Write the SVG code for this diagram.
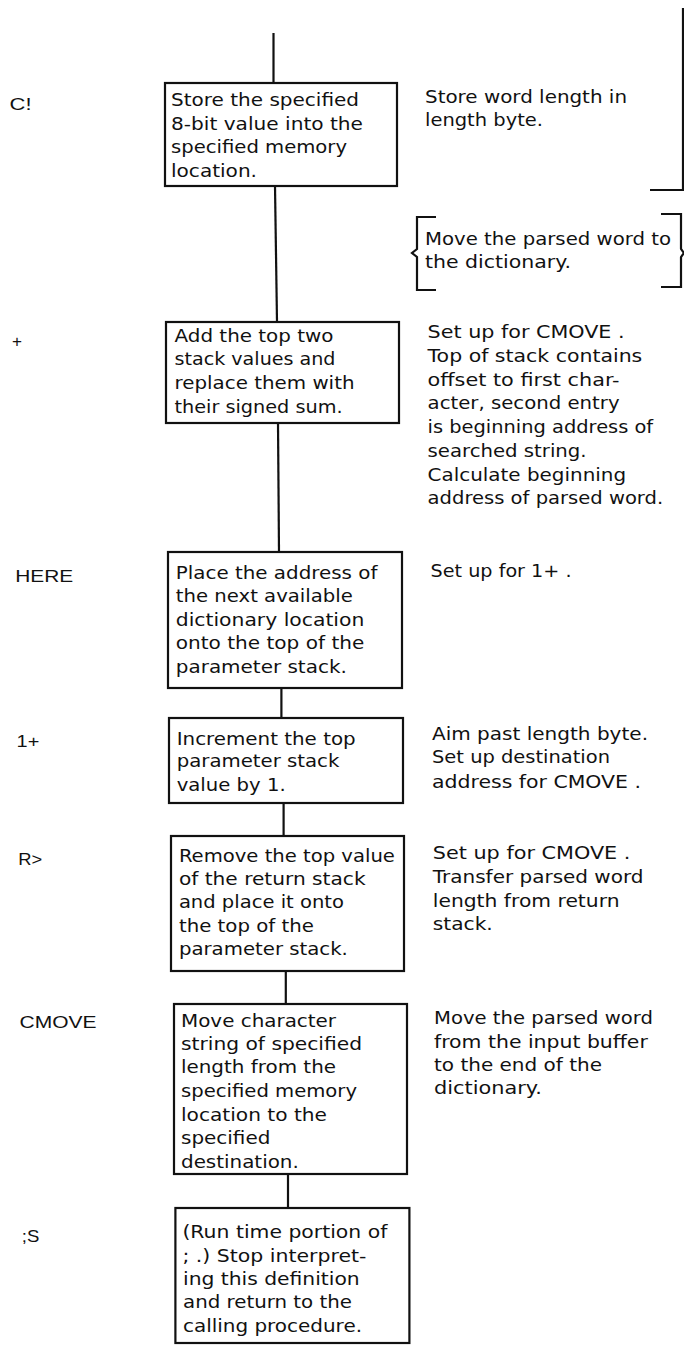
<svg xmlns="http://www.w3.org/2000/svg" width="684" height="1345" viewBox="0 0 684 1345">
<style>
.bg{fill:#fff}
.box{fill:#fff;stroke:#111;stroke-width:2.2}
.ln{fill:none;stroke:#111;stroke-width:2.2}
text{font-family:"DejaVu Sans","Liberation Sans",sans-serif;font-size:18px;fill:#111}
.lb{font-size:17px;font-family:"Liberation Sans","DejaVu Sans",sans-serif}
</style>
<rect class="bg" x="0" y="0" width="684" height="1345"/>
<g id="connectors">
<line class="ln" x1="273.5" y1="33" x2="273.5" y2="83"/>
<line class="ln" x1="275" y1="186" x2="277" y2="322"/>
<line class="ln" x1="278" y1="423" x2="279" y2="552"/>
<line class="ln" x1="281.4" y1="688" x2="281.4" y2="718"/>
<line class="ln" x1="283.6" y1="803" x2="283.6" y2="836"/>
<line class="ln" x1="285.8" y1="971" x2="285.8" y2="1004"/>
<line class="ln" x1="288" y1="1174" x2="288" y2="1208"/>
<polyline class="ln" points="683,8 683,190 650,190"/>
</g>
<g id="brace">
<path class="ln" d="M436,217 H417 V249 L412,253 L417,257 V290 H436"/>
<path class="ln" d="M661,214 H681 V249 L684,253 L681,257 V287 H661"/>
<text x="425" y="245" textLength="246" lengthAdjust="spacingAndGlyphs">Move the parsed word to</text>
<text x="425" y="268" textLength="146" lengthAdjust="spacingAndGlyphs">the dictionary.</text>
</g>
<g id="n-cstore">
<rect class="box" x="165" y="83" width="232" height="103"/>
<text x="171" y="106" textLength="188" lengthAdjust="spacingAndGlyphs">Store the specified</text>
<text x="171" y="129.5" textLength="192" lengthAdjust="spacingAndGlyphs">8-bit value into the</text>
<text x="171" y="153" textLength="176" lengthAdjust="spacingAndGlyphs">specified memory</text>
<text x="171" y="176.5" textLength="86" lengthAdjust="spacingAndGlyphs">location.</text>
<text class="lb" x="9.6" y="110" textLength="22" lengthAdjust="spacingAndGlyphs">C!</text>
<text x="425" y="103" textLength="202" lengthAdjust="spacingAndGlyphs">Store word length in</text>
<text x="425" y="126" textLength="118" lengthAdjust="spacingAndGlyphs">length byte.</text>
</g>
<g id="n-plus">
<rect class="box" x="166" y="322" width="233" height="101"/>
<text x="174.5" y="341.5" textLength="159" lengthAdjust="spacingAndGlyphs">Add the top two</text>
<text x="174.5" y="365" textLength="161" lengthAdjust="spacingAndGlyphs">stack values and</text>
<text x="174.5" y="389" textLength="180" lengthAdjust="spacingAndGlyphs">replace them with</text>
<text x="174.5" y="413" textLength="168" lengthAdjust="spacingAndGlyphs">their signed sum.</text>
<text class="lb" x="12" y="347" textLength="10" lengthAdjust="spacingAndGlyphs">+</text>
<text x="427.6" y="338.3" textLength="197" lengthAdjust="spacingAndGlyphs">Set up for CMOVE .</text>
<text x="427.6" y="362" textLength="214.7" lengthAdjust="spacingAndGlyphs">Top of stack contains</text>
<text x="427.6" y="385.7" textLength="192" lengthAdjust="spacingAndGlyphs">offset to first char-</text>
<text x="427.6" y="409.4" textLength="192" lengthAdjust="spacingAndGlyphs">acter, second entry</text>
<text x="427.6" y="433.1" textLength="225.6" lengthAdjust="spacingAndGlyphs">is beginning address of</text>
<text x="427.6" y="456.8" textLength="159" lengthAdjust="spacingAndGlyphs">searched string.</text>
<text x="427.6" y="480.5" textLength="198.5" lengthAdjust="spacingAndGlyphs">Calculate beginning</text>
<text x="427.6" y="504.2" textLength="235.6" lengthAdjust="spacingAndGlyphs">address of parsed word.</text>
</g>
<g id="n-here">
<rect class="box" x="168" y="552" width="234" height="136"/>
<text x="175.8" y="578.5" textLength="201.6" lengthAdjust="spacingAndGlyphs">Place the address of</text>
<text x="175.8" y="602" textLength="177" lengthAdjust="spacingAndGlyphs">the next available</text>
<text x="175.8" y="625.5" textLength="188.5" lengthAdjust="spacingAndGlyphs">dictionary location</text>
<text x="175.8" y="649" textLength="188.5" lengthAdjust="spacingAndGlyphs">onto the top of the</text>
<text x="175.8" y="672.5" textLength="171" lengthAdjust="spacingAndGlyphs">parameter stack.</text>
<text class="lb" x="15.3" y="581.7" textLength="58" lengthAdjust="spacingAndGlyphs">HERE</text>
<text x="430.6" y="576.7" textLength="141" lengthAdjust="spacingAndGlyphs">Set up for 1+ .</text>
</g>
<g id="n-oneplus">
<rect class="box" x="169" y="718" width="234" height="85"/>
<text x="176.7" y="745" textLength="179" lengthAdjust="spacingAndGlyphs">Increment the top</text>
<text x="176.7" y="767" textLength="162.7" lengthAdjust="spacingAndGlyphs">parameter stack</text>
<text x="176.7" y="790.7" textLength="109" lengthAdjust="spacingAndGlyphs">value by 1.</text>
<text class="lb" x="16.6" y="746.7" textLength="22.7" lengthAdjust="spacingAndGlyphs">1+</text>
<text x="432" y="740" textLength="216" lengthAdjust="spacingAndGlyphs">Aim past length byte.</text>
<text x="432" y="763.3" textLength="178" lengthAdjust="spacingAndGlyphs">Set up destination</text>
<text x="432" y="788" textLength="209" lengthAdjust="spacingAndGlyphs">address for CMOVE .</text>
</g>
<g id="n-rfrom">
<rect class="box" x="171" y="836" width="233" height="135"/>
<text x="178.9" y="861.7" textLength="216" lengthAdjust="spacingAndGlyphs">Remove the top value</text>
<text x="178.9" y="885" textLength="186.7" lengthAdjust="spacingAndGlyphs">of the return stack</text>
<text x="178.9" y="908.3" textLength="165" lengthAdjust="spacingAndGlyphs">and place it onto</text>
<text x="178.9" y="931.7" textLength="135" lengthAdjust="spacingAndGlyphs">the top of the</text>
<text x="178.9" y="955" textLength="169" lengthAdjust="spacingAndGlyphs">parameter stack.</text>
<text class="lb" x="18.3" y="865" textLength="24" lengthAdjust="spacingAndGlyphs">R&gt;</text>
<text x="432.8" y="859.3" textLength="197.6" lengthAdjust="spacingAndGlyphs">Set up for CMOVE .</text>
<text x="432.8" y="883.3" textLength="210.7" lengthAdjust="spacingAndGlyphs">Transfer parsed word</text>
<text x="432.8" y="906.5" textLength="186.7" lengthAdjust="spacingAndGlyphs">length from return</text>
<text x="432.8" y="930" textLength="60" lengthAdjust="spacingAndGlyphs">stack.</text>
</g>
<g id="n-cmove">
<rect class="box" x="174" y="1004" width="233" height="170"/>
<text x="181" y="1026.7" textLength="155" lengthAdjust="spacingAndGlyphs">Move character</text>
<text x="181" y="1050" textLength="181" lengthAdjust="spacingAndGlyphs">string of specified</text>
<text x="181" y="1073.3" textLength="155" lengthAdjust="spacingAndGlyphs">length from the</text>
<text x="181" y="1097.3" textLength="176" lengthAdjust="spacingAndGlyphs">specified memory</text>
<text x="181" y="1120.7" textLength="146" lengthAdjust="spacingAndGlyphs">location to the</text>
<text x="181" y="1144" textLength="89.4" lengthAdjust="spacingAndGlyphs">specified</text>
<text x="181" y="1167.7" textLength="117.8" lengthAdjust="spacingAndGlyphs">destination.</text>
<text class="lb" x="19.6" y="1028.3" textLength="77" lengthAdjust="spacingAndGlyphs">CMOVE</text>
<text x="434" y="1024" textLength="219" lengthAdjust="spacingAndGlyphs">Move the parsed word</text>
<text x="434" y="1047.7" textLength="213.8" lengthAdjust="spacingAndGlyphs">from the input buffer</text>
<text x="434" y="1071" textLength="168" lengthAdjust="spacingAndGlyphs">to the end of the</text>
<text x="434" y="1094.3" textLength="107.8" lengthAdjust="spacingAndGlyphs">dictionary.</text>
</g>
<g id="n-semis">
<rect class="box" x="175.4" y="1208" width="234" height="135"/>
<text x="182.4" y="1238.3" textLength="205" lengthAdjust="spacingAndGlyphs">(Run time portion of</text>
<text x="182.4" y="1261.7" textLength="184" lengthAdjust="spacingAndGlyphs">; .) Stop interpret-</text>
<text x="183" y="1285" textLength="176.7" lengthAdjust="spacingAndGlyphs">ing this definition</text>
<text x="183" y="1308.3" textLength="169" lengthAdjust="spacingAndGlyphs">and return to the</text>
<text x="183" y="1331.7" textLength="179" lengthAdjust="spacingAndGlyphs">calling procedure.</text>
<text class="lb" x="21.8" y="1241.7" textLength="17.5" lengthAdjust="spacingAndGlyphs">;S</text>
</g>
</svg>
